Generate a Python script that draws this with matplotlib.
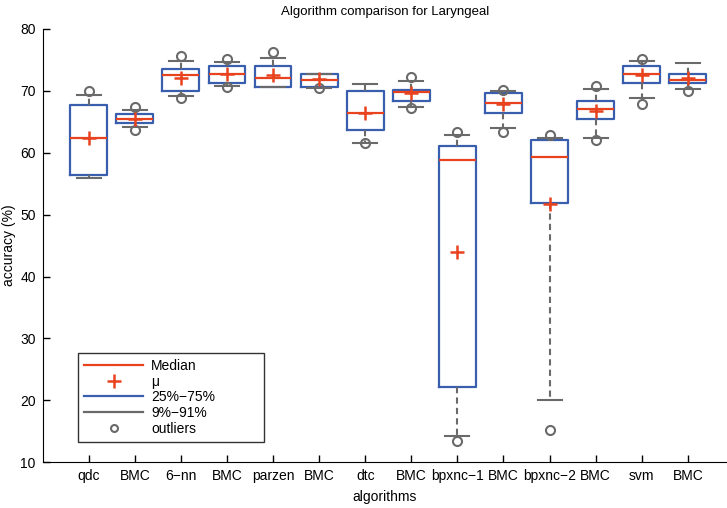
import numpy as np
import matplotlib
matplotlib.use('Agg')
import matplotlib.pyplot as plt
from matplotlib.lines import Line2D

plt.rcParams['font.family'] = ['Liberation Sans', 'DejaVu Sans']

labels = ['qdc', 'BMC', '6\u2212nn', 'BMC', 'parzen', 'BMC', 'dtc', 'BMC',
          'bpxnc\u22121', 'BMC', 'bpxnc\u22122', 'BMC', 'svm', 'BMC']
medians = [62.4, 65.5, 72.6, 72.7, 72.0, 71.8, 66.5, 69.8, 58.9, 68.1, 59.3, 67.0, 72.7, 71.8]
means = [62.4, 65.5, 72.0, 72.8, 72.5, 71.9, 66.5, 69.6, 44.0, 67.9, 51.8, 66.8, 72.6, 72.1]
q1 = [56.4, 64.8, 69.9, 71.2, 70.7, 70.7, 63.7, 68.3, 22.1, 66.5, 51.9, 65.4, 71.2, 71.2]
q3 = [67.7, 66.2, 73.5, 74.0, 74.0, 72.8, 70.0, 70.1, 61.1, 69.6, 62.1, 68.4, 74.0, 72.8]
wlo = [56.0, 64.2, 69.2, 70.8, 70.7, 70.5, 61.5, 67.4, 14.2, 64.0, 20.1, 62.4, 68.9, 70.3]
whi = [69.3, 66.9, 74.8, 74.6, 75.3, 72.8, 71.1, 71.6, 62.9, 70.0, 62.4, 70.3, 74.8, 74.5]
outliers = [[70.0], [67.4, 63.7], [75.7, 68.9], [75.1, 70.6], [76.2], [70.4],
            [61.5], [72.3, 67.3], [63.3, 13.5], [70.1, 63.4], [62.9, 15.2],
            [70.8, 62.0], [75.2, 67.9], [70.0]]

red = '#e8431e'
blue = '#3a5eae'
gray = '#6a6a6a'

stats = []
for i in range(len(labels)):
    stats.append(dict(med=medians[i], mean=means[i], q1=q1[i], q3=q3[i],
                      whislo=wlo[i], whishi=whi[i], fliers=outliers[i]))

fig = plt.figure(figsize=(7.27, 5.08), dpi=100)
ax = fig.add_axes((42.6 / 727, 0.09, 1 - 42.6 / 727, 0.853))

pos = np.arange(1, len(labels) + 1)
ax.bxp(stats, positions=pos, widths=0.8, showmeans=True,
       boxprops=dict(color=blue, linewidth=1.6),
       medianprops=dict(color=red, linewidth=1.6),
       whiskerprops=dict(color=gray, linewidth=1.5, linestyle=(0, (3, 2))),
       capprops=dict(color=gray, linewidth=1.5),
       capwidths=0.52,
       meanprops=dict(marker='+', markeredgecolor=red, markersize=10, markeredgewidth=1.8),
       flierprops=dict(marker='o', markerfacecolor='none', markeredgecolor=gray,
                       markersize=6.5, markeredgewidth=1.5))

ax.set_xlim(0, 14.85)
ax.set_ylim(10, 80)
ax.set_xticks(pos)
ax.set_xticklabels(labels)
ax.set_yticks(range(10, 81, 10))
ax.tick_params(direction='in', length=5, width=1, labelsize=10, pad=5)
ax.spines['top'].set_visible(False)
ax.spines['right'].set_visible(False)
ax.set_title('Algorithm comparison for Laryngeal', fontsize=9.5, pad=10)
ax.set_xlabel('algorithms', fontsize=10, labelpad=5)
ax.set_ylabel('accuracy (%)', fontsize=10, labelpad=3)

handles = [Line2D([], [], color=red, linewidth=1.6),
           Line2D([], [], color=red, linestyle='none', marker='+', markersize=10, markeredgewidth=1.8),
           Line2D([], [], color=blue, linewidth=1.6),
           Line2D([], [], color=gray, linewidth=1.6),
           Line2D([], [], color=gray, linestyle='none', marker='o', markerfacecolor='none',
                  markersize=5, markeredgewidth=1.5)]
names = ['Median', '\u03bc', '25%\u221275%', '9%\u221291%', 'outliers']
leg = ax.legend(handles, names, loc='lower left', bbox_to_anchor=(0.052, 0.047, 0.272, 0.2),
                mode='expand', borderaxespad=0, fancybox=False, fontsize=10,
                handlelength=4.2, labelspacing=0.12, handletextpad=0.6,
                borderpad=0.45, frameon=True)
leg.get_frame().set_edgecolor('black')
leg.get_frame().set_linewidth(1.0)

fig.savefig('out.png', dpi=100)
